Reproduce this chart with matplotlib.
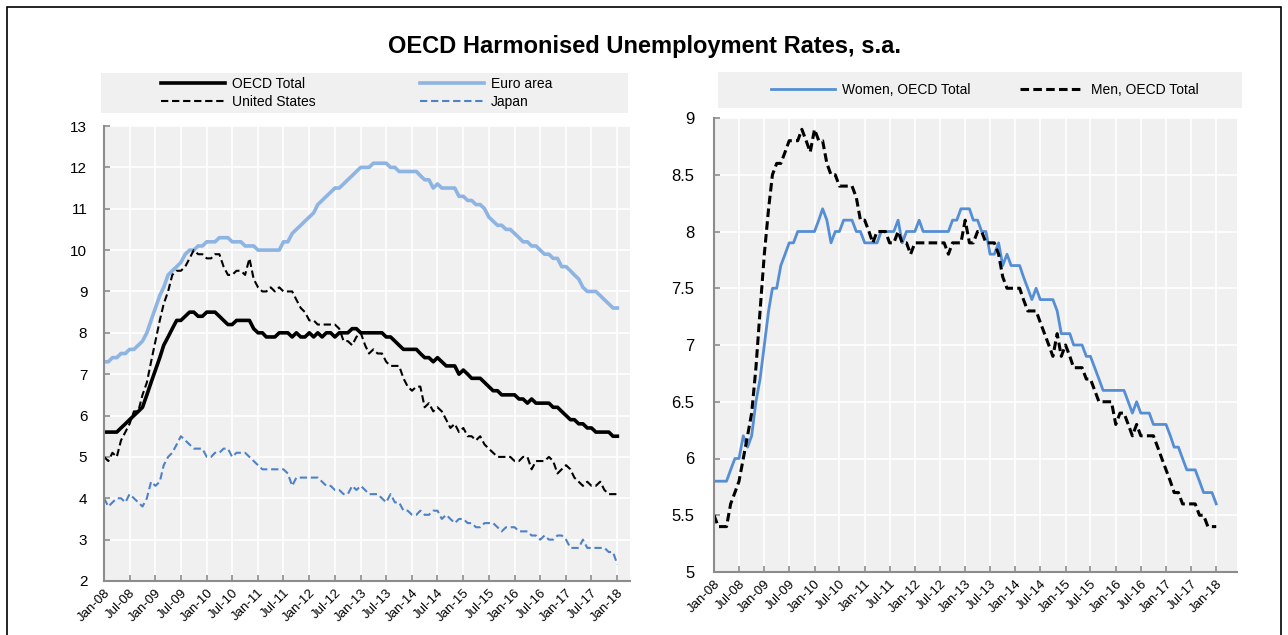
import numpy as np
import pandas as pd
import matplotlib
matplotlib.use('Agg')
import matplotlib.pyplot as plt
from matplotlib.patches import Rectangle

plt.rcParams['font.family'] = ['Liberation Sans Narrow', 'Liberation Sans', 'DejaVu Sans']

# Monthly data, Jan-08 .. Jan-18 (121 months)
dates = pd.date_range('2008-01-01', periods=121, freq='MS')

oecd_total = [
    5.6, 5.6, 5.6, 5.6, 5.7, 5.8, 5.9, 6.0, 6.1, 6.2, 6.5, 6.8,
    7.1, 7.4, 7.7, 7.9, 8.1, 8.3, 8.3, 8.4, 8.5, 8.5, 8.4, 8.4,
    8.5, 8.5, 8.5, 8.4, 8.3, 8.2, 8.2, 8.3, 8.3, 8.3, 8.3, 8.1,
    8.0, 8.0, 7.9, 7.9, 7.9, 8.0, 8.0, 8.0, 7.9, 8.0, 7.9, 7.9,
    8.0, 7.9, 8.0, 7.9, 8.0, 8.0, 7.9, 8.0, 8.0, 8.0, 8.1, 8.1,
    8.0, 8.0, 8.0, 8.0, 8.0, 8.0, 7.9, 7.9, 7.8, 7.7, 7.6, 7.6,
    7.6, 7.6, 7.5, 7.4, 7.4, 7.3, 7.4, 7.3, 7.2, 7.2, 7.2, 7.0,
    7.1, 7.0, 6.9, 6.9, 6.9, 6.8, 6.7, 6.6, 6.6, 6.5, 6.5, 6.5,
    6.5, 6.4, 6.4, 6.3, 6.4, 6.3, 6.3, 6.3, 6.3, 6.2, 6.2, 6.1,
    6.0, 5.9, 5.9, 5.8, 5.8, 5.7, 5.7, 5.6, 5.6, 5.6, 5.6, 5.5,
    5.5]

euro_area = [
    7.3, 7.3, 7.4, 7.4, 7.5, 7.5, 7.6, 7.6, 7.7, 7.8, 8.0, 8.3,
    8.6, 8.9, 9.1, 9.4, 9.5, 9.6, 9.7, 9.9, 10.0, 10.0, 10.1, 10.1,
    10.2, 10.2, 10.2, 10.3, 10.3, 10.3, 10.2, 10.2, 10.2, 10.1, 10.1, 10.1,
    10.0, 10.0, 10.0, 10.0, 10.0, 10.0, 10.2, 10.2, 10.4, 10.5, 10.6, 10.7,
    10.8, 10.9, 11.1, 11.2, 11.3, 11.4, 11.5, 11.5, 11.6, 11.7, 11.8, 11.9,
    12.0, 12.0, 12.0, 12.1, 12.1, 12.1, 12.1, 12.0, 12.0, 11.9, 11.9, 11.9,
    11.9, 11.9, 11.8, 11.7, 11.7, 11.5, 11.6, 11.5, 11.5, 11.5, 11.5, 11.3,
    11.3, 11.2, 11.2, 11.1, 11.1, 11.0, 10.8, 10.7, 10.6, 10.6, 10.5, 10.5,
    10.4, 10.3, 10.2, 10.2, 10.1, 10.1, 10.0, 9.9, 9.9, 9.8, 9.8, 9.6,
    9.6, 9.5, 9.4, 9.3, 9.1, 9.0, 9.0, 9.0, 8.9, 8.8, 8.7, 8.6,
    8.6]

united_states = [
    5.0, 4.9, 5.1, 5.0, 5.4, 5.6, 5.8, 6.1, 6.1, 6.5, 6.8, 7.3,
    7.8, 8.3, 8.7, 9.0, 9.4, 9.5, 9.5, 9.6, 9.8, 10.0, 9.9, 9.9,
    9.8, 9.8, 9.9, 9.9, 9.6, 9.4, 9.4, 9.5, 9.5, 9.4, 9.8, 9.3,
    9.1, 9.0, 9.0, 9.1, 9.0, 9.1, 9.0, 9.0, 9.0, 8.8, 8.6, 8.5,
    8.3, 8.3, 8.2, 8.2, 8.2, 8.2, 8.2, 8.1, 7.8, 7.8, 7.7, 7.9,
    8.0, 7.7, 7.5, 7.6, 7.5, 7.5, 7.3, 7.2, 7.2, 7.2, 6.9, 6.7,
    6.6, 6.7, 6.7, 6.2, 6.3, 6.1, 6.2, 6.1, 5.9, 5.7, 5.8, 5.6,
    5.7, 5.5, 5.5, 5.4, 5.5, 5.3, 5.2, 5.1, 5.0, 5.0, 5.0, 5.0,
    4.9, 4.9, 5.0, 5.0, 4.7, 4.9, 4.9, 4.9, 5.0, 4.9, 4.6, 4.7,
    4.8, 4.7, 4.5, 4.4, 4.3, 4.4, 4.3, 4.3, 4.4, 4.2, 4.1, 4.1,
    4.1]

japan = [
    4.0, 3.8, 3.9, 4.0, 4.0, 3.9, 4.1, 4.0, 3.9, 3.8, 4.0, 4.4,
    4.3, 4.4, 4.8, 5.0, 5.1, 5.3, 5.5, 5.4, 5.3, 5.2, 5.2, 5.2,
    5.0, 5.0, 5.1, 5.1, 5.2, 5.2, 5.0, 5.1, 5.1, 5.1, 5.0, 4.9,
    4.8, 4.7, 4.7, 4.7, 4.7, 4.7, 4.7, 4.6, 4.3, 4.5, 4.5, 4.5,
    4.5, 4.5, 4.5, 4.4, 4.3, 4.3, 4.2, 4.2, 4.1, 4.1, 4.3, 4.2,
    4.3, 4.2, 4.1, 4.1, 4.1, 4.0, 3.9, 4.1, 3.9, 3.9, 3.7, 3.7,
    3.6, 3.6, 3.7, 3.6, 3.6, 3.7, 3.7, 3.5, 3.6, 3.5, 3.4, 3.5,
    3.5, 3.4, 3.4, 3.3, 3.3, 3.4, 3.4, 3.4, 3.3, 3.2, 3.3, 3.3,
    3.3, 3.2, 3.2, 3.2, 3.1, 3.1, 3.0, 3.1, 3.0, 3.0, 3.1, 3.1,
    3.0, 2.8, 2.8, 2.8, 3.0, 2.8, 2.8, 2.8, 2.8, 2.8, 2.7, 2.7,
    2.4]

women = [
    5.8, 5.8, 5.8, 5.8, 5.9, 6.0, 6.0, 6.2, 6.1, 6.2, 6.5, 6.7,
    7.0, 7.3, 7.5, 7.5, 7.7, 7.8, 7.9, 7.9, 8.0, 8.0, 8.0, 8.0,
    8.0, 8.1, 8.2, 8.1, 7.9, 8.0, 8.0, 8.1, 8.1, 8.1, 8.0, 8.0,
    7.9, 7.9, 7.9, 7.9, 8.0, 8.0, 8.0, 8.0, 8.1, 7.9, 8.0, 8.0,
    8.0, 8.1, 8.0, 8.0, 8.0, 8.0, 8.0, 8.0, 8.0, 8.1, 8.1, 8.2,
    8.2, 8.2, 8.1, 8.1, 8.0, 8.0, 7.8, 7.8, 7.9, 7.7, 7.8, 7.7,
    7.7, 7.7, 7.6, 7.5, 7.4, 7.5, 7.4, 7.4, 7.4, 7.4, 7.3, 7.1,
    7.1, 7.1, 7.0, 7.0, 7.0, 6.9, 6.9, 6.8, 6.7, 6.6, 6.6, 6.6,
    6.6, 6.6, 6.6, 6.5, 6.4, 6.5, 6.4, 6.4, 6.4, 6.3, 6.3, 6.3,
    6.3, 6.2, 6.1, 6.1, 6.0, 5.9, 5.9, 5.9, 5.8, 5.7, 5.7, 5.7,
    5.6]

men = [
    5.5, 5.4, 5.4, 5.4, 5.6, 5.7, 5.8, 6.0, 6.2, 6.4, 6.8, 7.3,
    7.8, 8.2, 8.5, 8.6, 8.6, 8.7, 8.8, 8.8, 8.8, 8.9, 8.8, 8.7,
    8.9, 8.8, 8.8, 8.6, 8.5, 8.5, 8.4, 8.4, 8.4, 8.4, 8.3, 8.1,
    8.1, 8.0, 7.9, 8.0, 8.0, 8.0, 7.9, 7.9, 8.0, 7.9, 7.9, 7.8,
    7.9, 7.9, 7.9, 7.9, 7.9, 7.9, 7.9, 7.9, 7.8, 7.9, 7.9, 7.9,
    8.1, 7.9, 7.9, 8.0, 8.0, 7.9, 7.9, 7.9, 7.8, 7.6, 7.5, 7.5,
    7.5, 7.5, 7.4, 7.3, 7.3, 7.3, 7.2, 7.1, 7.0, 6.9, 7.1, 6.9,
    7.0, 6.9, 6.8, 6.8, 6.8, 6.7, 6.7, 6.6, 6.5, 6.5, 6.5, 6.5,
    6.3, 6.4, 6.4, 6.3, 6.2, 6.3, 6.2, 6.2, 6.2, 6.2, 6.1, 6.0,
    5.9, 5.8, 5.7, 5.7, 5.6, 5.6, 5.6, 5.6, 5.5, 5.5, 5.4, 5.4,
    5.4]

title = 'OECD Harmonised Unemployment Rates, s.a.'

bg = '#f0f0f0'
spine_col = '#8c8c8c'
euro_col = '#8db4e2'
japan_col = '#4f81c7'
women_col = '#558ed5'

W, H = 1288, 635
fig = plt.figure(figsize=(W / 100, H / 100), dpi=100)

def fbox(x0, y0, x1, y1):
    # pixel box (top-left origin) -> figure fraction [l, b, w, h]
    return [x0 / W, 1 - y1 / H, (x1 - x0) / W, (y1 - y0) / H]

# outer frame
fig.patches.append(Rectangle((7 / W, -0.05), (1281 - 7) / W, 1.05 - 7 / H,
                             transform=fig.transFigure, fill=False,
                             edgecolor='black', linewidth=1.2))

fig.text(0.5, 1 - 47 / H, title, ha='center', va='center',
         fontsize=17, fontweight='bold', family=['Liberation Sans', 'DejaVu Sans'])

ticks = dates[::6]
tick_labels = [d.strftime('%b-%y') for d in ticks]


def style_axes(ax, ylo, yhi, ystep, xpad_months):
    ax.set_facecolor(bg)
    ax.set_xlim(dates[0], dates[0] + pd.DateOffset(months=int(120 + xpad_months)))
    ax.set_ylim(ylo, yhi)
    ax.set_xticks(ticks)
    ax.set_xticklabels(tick_labels, rotation=45, ha='right', rotation_mode='anchor',
                       fontsize=9.5)
    ax.set_yticks(np.arange(ylo, yhi + 1e-9, ystep))
    ax.yaxis.set_major_formatter(plt.FuncFormatter(lambda v, p: f'{v:g}'))
    ax.grid(True, color='white', linewidth=1.2)
    ax.set_axisbelow(True)
    for s in ['top', 'right']:
        ax.spines[s].set_visible(False)
    for s in ['left', 'bottom']:
        ax.spines[s].set_color(spine_col)
        ax.spines[s].set_linewidth(1.5)
    ax.tick_params(direction='in', length=4, color=spine_col, width=1.2)
    ax.tick_params(axis='x', pad=4)


# ---- left panel
ax1 = fig.add_axes(fbox(104, 126, 630, 581))
ax1.plot(dates, oecd_total, color='black', lw=2.6, label='OECD Total')
ax1.plot(dates, euro_area, color=euro_col, lw=2.6, label='Euro area')
ax1.plot(dates, united_states, color='black', lw=1.5, dashes=(3.5, 1.8), label='United States')
ax1.plot(dates, japan, color=japan_col, lw=1.5, dashes=(3.5, 1.8), label='Japan')
style_axes(ax1, 2, 13, 1, 3)
ax1.tick_params(axis='y', labelsize=11, pad=12)

# ---- right panel
ax2 = fig.add_axes(fbox(714, 118, 1237, 572))
ax2.plot(dates, women, color=women_col, lw=2.0, label='Women, OECD Total')
ax2.plot(dates, men, color='black', lw=2.2, dashes=(2.8, 1.4), label='Men, OECD Total')
style_axes(ax2, 5, 9, 0.5, 5)
ax2.tick_params(axis='y', labelsize=12, pad=14)

# ---- legend boxes
def legend_box(box, handles, ncol, colsp, xshift):
    lax = fig.add_axes(fbox(*box))
    lax.set_facecolor(bg)
    lax.set_xticks([])
    lax.set_yticks([])
    for s in lax.spines.values():
        s.set_visible(False)
    lax.legend(handles=handles, loc='center', bbox_to_anchor=(0.5 + xshift, 0.5),
               ncol=ncol, frameon=False,
               fontsize=10, handlelength=4.6, handletextpad=0.5,
               columnspacing=colsp, labelspacing=0.25)

h1 = ax1.get_lines()
legend_box((101, 73, 628, 113), [h1[0], h1[2], h1[1], h1[3]], 2, 7.5, -8 / 527)
legend_box((718, 72, 1242, 108), ax2.get_lines(), 2, 3.6, 5 / 524)

fig.savefig('out.png', dpi=100)
